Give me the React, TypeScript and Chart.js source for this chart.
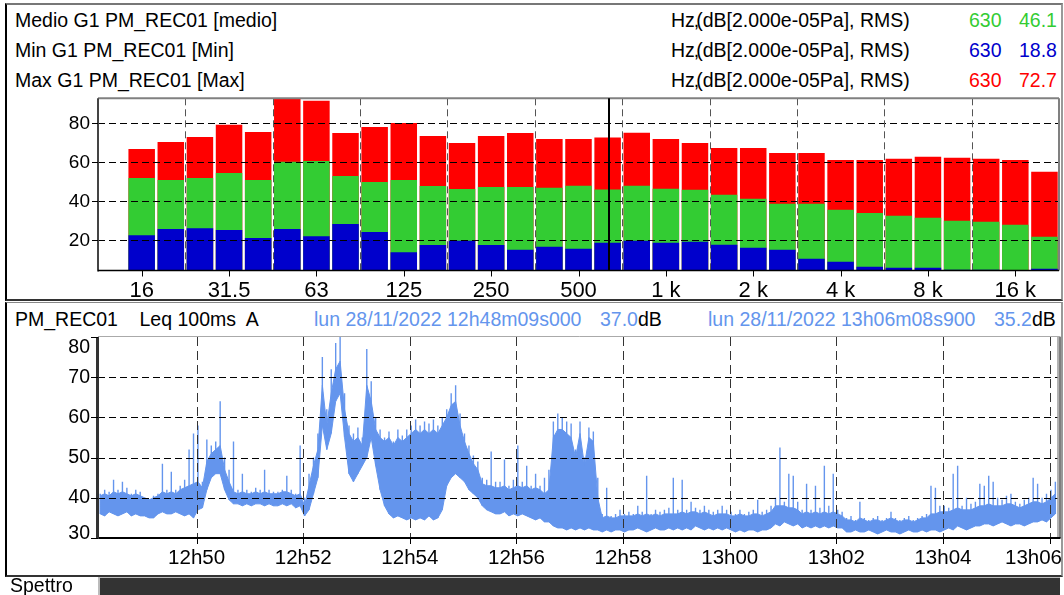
import React, { useEffect, useRef } from 'react';
import { Chart, registerables } from 'chart.js';

Chart.register(...registerables);

const FONT = '"Liberation Sans", Arial, Helvetica, sans-serif';
const RED = '#FF0000';
const GREEN = '#33CC33';
const BLUE = '#0000CC';
const TRACE = '#6495ED';

// ---------- Spectrum (1/3 octave) ----------
const bandLabels = ['12.5', '16', '20', '25', '31.5', '40', '50', '63', '80', '100', '125', '160', '200', '250', '315', '400', '500', '630', '800', '1 k', '1.25 k', '1.6 k', '2 k', '2.5 k', '3.15 k', '4 k', '5 k', '6.3 k', '8 k', '10 k', '12.5 k', '16 k', '20 k'];
const shownBandLabels = ['16', '31.5', '63', '125', '250', '500', '1 k', '2 k', '4 k', '8 k', '16 k'];
const maxLevels = [null, 66.8, 70.4, 73.0, 79.3, 75.6, 93.5, 91.5, 75.0, 78.1, 80.2, 73.5, 69.9, 73.5, 75.0, 72.0, 72.0, 72.7, 75.1, 72.0, 69.9, 67.4, 67.4, 64.8, 64.8, 61.2, 61.2, 61.9, 62.9, 62.4, 61.9, 61.2, 55.2];
const medioLevels = [null, 52.0, 50.9, 52.0, 54.5, 50.9, 60.3, 60.7, 53.0, 49.9, 50.9, 47.9, 46.3, 47.4, 47.4, 47.0, 48.0, 46.1, 48.0, 46.5, 46.0, 43.4, 41.4, 38.8, 38.8, 35.7, 34.0, 32.6, 31.6, 30.1, 29.6, 28.0, 21.9];
const minLevels = [null, 22.7, 25.8, 26.3, 25.3, 21.2, 25.8, 22.2, 28.4, 24.3, 14.0, 17.7, 19.8, 17.7, 15.2, 16.8, 15.8, 18.8, 19.9, 18.8, 19.3, 17.8, 16.2, 15.2, 10.6, 9.1, 6.5, 6.0, 6.0, 5.0, 5.0, 4.6, 5.5];
const spectrumTicks = [20, 40, 60, 80];
const spectrumMin = 4.6;
const spectrumMax = 92.8;
const cursorBand = '630';

// ---------- Time history (Leq 100ms A), read per 5 s column: band bottom, band top, peak ----------
const traceStepSec = 5;
const traceLow = [
  36, 35.5, 36.5, 36, 35.5, 36, 36.5, 35.5, 36, 35.5,
  35.5, 35, 35, 36, 36.5, 36, 36, 36.5, 36, 35.5,
  36, 35, 37, 37.5, 42, 45, 46, 46, 42, 39.5,
  38.5, 38.5, 38, 38.5, 38, 38.5, 38.5, 38, 38.5, 38,
  38, 38.5, 38, 38.5, 37.5, 38, 35.5, 37, 41, 45,
  58, 52, 56, 64, 66, 55, 46, 44, 46, 48,
  50, 55, 48, 42, 38, 36, 35, 35.5, 35, 34.5,
  35, 34.5, 35, 34.5, 35.5, 34.5, 35, 37, 43, 45,
  46, 45, 44, 42, 41, 40, 38, 37, 36.5, 36,
  36, 36.5, 35.5, 36, 35.5, 36, 35.5, 35, 34.5, 35,
  34, 34, 33, 32.5, 32.5, 32, 32.5, 32, 32.5, 32,
  32.5, 32, 32, 31.5, 32, 31.5, 32, 32, 31.5, 32,
  32, 32.5, 32, 31.5, 32, 32.5, 32, 32, 32.5, 32,
  32.5, 32, 32.5, 32, 33, 32.5, 32, 32.5, 32, 32.5,
  32, 32.5, 32, 31.5, 32, 31.5, 32, 32, 31.5, 32,
  32, 32.5, 33.5, 33, 34, 33.5, 33, 33.5, 32.5, 33,
  32.5, 33, 32.5, 33, 32.5, 33, 32.5, 32.5, 31.5, 31.5,
  32, 31.5, 31.5, 32, 31.5, 31, 31.5, 32, 31.5, 31.5,
  31, 31.5, 32, 31.5, 31.5, 32, 31.5, 32, 32, 31.5,
  32, 32.5, 32, 33, 32.5, 32, 32.5, 33, 33, 33.5,
  33.5, 33, 33.5, 34, 33.5, 33, 33.5, 33.5, 33, 33.5,
  34, 34, 34.5, 34, 35, 36,
];
const traceTop = [
  40.5, 41, 40.5, 41.5, 41, 41.5, 41, 40.5, 41, 40.5,
  40, 39.5, 40, 40.5, 41.5, 41, 41.5, 41, 42, 42.5,
  43, 43.5, 44, 42.5, 49, 51, 52, 53, 47, 44,
  41.5, 41, 41.5, 41, 41, 41.5, 41, 41.5, 41, 41,
  41, 41.5, 41.5, 41, 40.5, 41, 38, 43, 48, 52,
  68, 58, 66, 72, 74, 62, 56, 54, 55, 53,
  68, 64, 57, 55, 54, 55, 53, 55, 54, 55,
  56, 57, 56, 57, 56, 57, 56, 58, 60, 63,
  64, 58, 54, 51, 48.5, 47, 43.5, 43, 43, 42.5,
  42.5, 43, 42, 42.5, 43, 42.5, 43, 42, 42.5, 42,
  41, 42, 55, 57, 57, 56, 55, 50, 56, 48,
  55, 54, 40, 35, 35.5, 35, 35, 35.5, 35.5, 35.5,
  35.5, 36, 35.5, 36, 35.5, 36, 35.5, 36, 36, 36,
  36, 36.5, 36, 36.5, 36.5, 36, 36.5, 36, 35.5, 36,
  36, 36, 35.5, 35.5, 36, 35.5, 35.5, 36, 36, 35.5,
  36, 36.5, 38, 38, 38, 37.5, 37.5, 37, 36, 36.5,
  36, 36.5, 36, 36.5, 36, 36.5, 36, 35.5, 34.5, 34.5,
  34, 35, 34.5, 34, 34.5, 34.5, 34, 34.5, 35, 34.5,
  34, 34.5, 34.5, 34, 34.5, 35, 35, 36, 36, 36.5,
  36.5, 36.5, 37, 37.5, 37, 37, 37, 37.5, 38, 38,
  38.5, 38, 38, 38, 38.5, 38.5, 38, 37.5, 38, 38.5,
  39, 39, 38.5, 39, 40, 41,
];
const traceHigh = [
  41, 42, 41.5, 44.5, 42, 44, 42.5, 41, 42, 41.5,
  40, 39.5, 40.5, 41, 48.5, 42, 46.5, 42, 43, 44.5,
  52, 56, 58, 44, 54.5, 53, 54, 64, 50, 47,
  54, 42, 46, 42, 41.5, 42.5, 42, 47, 42, 41.5,
  41.5, 42, 45.5, 42, 41, 53, 40, 46, 50, 56,
  75, 62, 72, 78.5, 80.3, 66, 58, 56, 57.5, 55,
  77, 69, 60, 57, 55, 56.5, 54, 57, 55.5, 57,
  58, 59.5, 58, 59, 58.5, 59.5, 58, 60, 62, 66,
  68, 61, 56, 53, 50.5, 49, 45, 44.5, 51.5, 44,
  44, 49.5, 43, 44.5, 53, 44, 48, 43, 46, 43,
  45, 47, 59, 61, 60, 59, 58.5, 52, 59, 50,
  57.5, 56.5, 45, 36, 42.5, 35.5, 36, 37, 36, 36.5,
  36, 38, 36.5, 45.5, 36, 37, 36.5, 37, 37.5, 45,
  37, 44.5, 37, 39, 37.5, 37, 38, 37, 36.5, 37,
  38, 37, 36.5, 36, 37, 36, 36.5, 37, 39.5, 36.5,
  37, 38, 40, 52.5, 39, 46, 45.5, 39, 37, 43.5,
  37, 43, 37.5, 48, 38, 46, 37, 36.5, 35, 35.5,
  34.5, 39, 35, 34.5, 35, 35.5, 34.5, 35, 36.5, 35,
  34.5, 35, 35.5, 34.5, 35, 35.5, 36, 43, 42.5, 38,
  38, 37.5, 46, 48, 38, 40, 38.5, 39, 43.5, 43,
  45.5, 44, 40, 39.5, 40.5, 41, 39, 38.5, 39.5, 40,
  45, 43.5, 40, 41, 42, 44,
];
const traceEndSec = 1079.9; // 12h48m09s000 -> 13h06m08s900
const timeTickSecs = [111, 231, 351, 471, 591, 711, 831, 951, 1071];
const timeTickLabels = ['12h50', '12h52', '12h54', '12h56', '12h58', '13h00', '13h02', '13h04', '13h06'];
const levelTicks = [30, 40, 50, 60, 70, 80];
const levelMin = 30;
const levelMax = 80;

function hLine(ctx: CanvasRenderingContext2D, x1: number, x2: number, y: number) {
  ctx.beginPath();
  ctx.moveTo(x1, y);
  ctx.lineTo(x2, y);
  ctx.stroke();
}
function vLine(ctx: CanvasRenderingContext2D, x: number, y1: number, y2: number) {
  ctx.beginPath();
  ctx.moveTo(x, y1);
  ctx.lineTo(x, y2);
  ctx.stroke();
}

const upperDecor = {
  id: 'upperDecor',
  afterDatasetsDraw(chart: any) {
    const { ctx, chartArea: a, scales } = chart;
    const x = scales.x;
    const y = scales.y;
    const w = (a.right - a.left) / bandLabels.length;
    ctx.save();
    ctx.lineWidth = 1;
    ctx.setLineDash([7, 4]);
    ctx.strokeStyle = '#000';
    spectrumTicks.forEach((v) => {
      const py = Math.round(y.getPixelForValue(v)) + 0.5;
      hLine(ctx, a.left, a.right, py);
    });
    ctx.strokeStyle = '#555';
    for (let i = 3; i < bandLabels.length; i += 3) {
      const px = Math.round(x.getPixelForValue(i) - w / 2) + 0.5;
      vLine(ctx, px, a.top, a.bottom);
    }
    ctx.setLineDash([]);
    // frame
    ctx.strokeStyle = '#808080';
    ctx.lineWidth = 2;
    hLine(ctx, a.left, a.right, a.top);
    vLine(ctx, a.right, a.top, a.bottom);
    ctx.strokeStyle = '#444';
    vLine(ctx, a.left, a.top, a.bottom + 1);
    ctx.strokeStyle = '#000';
    ctx.lineWidth = 1.5;
    hLine(ctx, a.left, a.right, a.bottom);
    // tick marks
    ctx.lineWidth = 1;
    bandLabels.forEach((lab, i) => {
      if (shownBandLabels.includes(lab)) {
        const px = Math.round(x.getPixelForValue(i)) + 0.5;
        vLine(ctx, px, a.bottom, a.bottom + 6);
      }
    });
    spectrumTicks.forEach((v) => {
      const py = Math.round(y.getPixelForValue(v)) + 0.5;
      hLine(ctx, a.left - 6, a.left, py);
    });
    // cursor
    const ci = bandLabels.indexOf(cursorBand);
    ctx.lineWidth = 2;
    ctx.strokeStyle = '#000';
    vLine(ctx, Math.round(x.getPixelForValue(ci)) + 1, a.top, a.bottom);
    // tick labels
    ctx.fillStyle = '#000';
    ctx.font = `22px ${FONT}`;
    ctx.textAlign = 'center';
    ctx.textBaseline = 'alphabetic';
    bandLabels.forEach((lab, i) => {
      if (shownBandLabels.includes(lab)) ctx.fillText(lab, x.getPixelForValue(i), a.bottom + 26.3);
    });
    ctx.font = `19px ${FONT}`;
    ctx.textAlign = 'right';
    ctx.textBaseline = 'middle';
    spectrumTicks.forEach((v) => {
      ctx.fillText(String(v), a.left - 8, y.getPixelForValue(v) + 0.5);
    });
    ctx.restore();
  },
};

const lowerDecor = {
  id: 'lowerDecor',
  afterDatasetsDraw(chart: any) {
    const { ctx, chartArea: a, scales } = chart;
    const x = scales.x;
    const y = scales.y;
    ctx.save();
    ctx.lineWidth = 1;
    ctx.setLineDash([7, 4]);
    ctx.strokeStyle = '#000';
    levelTicks.forEach((v) => {
      if (v === levelMin || v === levelMax) return;
      const py = Math.round(y.getPixelForValue(v)) + 0.5;
      hLine(ctx, a.left, a.right, py);
    });
    ctx.setLineDash([9, 5]);
    ctx.strokeStyle = '#333';
    timeTickSecs.forEach((t) => {
      const px = Math.round(x.getPixelForValue(t)) + 0.5;
      vLine(ctx, px, a.top, a.bottom);
    });
    ctx.setLineDash([]);
    // frame
    ctx.strokeStyle = '#aaa';
    ctx.lineWidth = 1;
    hLine(ctx, a.left, a.right + 3, a.top - 0.5);
    ctx.strokeStyle = '#666';
    vLine(ctx, a.right + 0.5, a.top, a.bottom);
    ctx.strokeStyle = '#000';
    vLine(ctx, a.right + 2.5, a.top, a.bottom);
    ctx.strokeStyle = '#000';
    ctx.lineWidth = 2;
    hLine(ctx, a.left, a.right + 3, a.bottom);
    ctx.strokeStyle = '#333';
    ctx.lineWidth = 3;
    vLine(ctx, a.left - 0.5, a.top, a.bottom + 1);
    // ticks
    ctx.lineWidth = 1;
    ctx.strokeStyle = '#000';
    levelTicks.forEach((v) => {
      const py = Math.round(y.getPixelForValue(v)) + 0.5;
      hLine(ctx, a.left - 7, a.left, py);
    });
    timeTickSecs.forEach((t) => {
      const px = Math.round(x.getPixelForValue(t)) + 0.5;
      vLine(ctx, px, a.bottom, a.bottom + 6);
    });
    // labels
    ctx.fillStyle = '#000';
    ctx.font = `19.5px ${FONT}`;
    ctx.textAlign = 'right';
    levelTicks.forEach((v) => {
      const py = y.getPixelForValue(v);
      if (v === levelMax) {
        ctx.textBaseline = 'alphabetic';
        ctx.fillText(String(v), a.left - 8, py + 16);
      } else if (v === levelMin) {
        ctx.textBaseline = 'alphabetic';
        ctx.fillText(String(v), a.left - 8, py + 1);
      } else {
        ctx.textBaseline = 'middle';
        ctx.fillText(String(v), a.left - 8, py);
      }
    });
    ctx.font = `20.5px ${FONT}`;
    ctx.textAlign = 'center';
    ctx.textBaseline = 'alphabetic';
    timeTickSecs.forEach((t, i) => {
      const lab = timeTickLabels[i];
      const tw = ctx.measureText(lab).width;
      let px = x.getPixelForValue(t);
      if (px + tw / 2 > chart.width - 2) px = chart.width - 2 - tw / 2;
      ctx.fillText(lab, px, a.bottom + 26);
    });
    ctx.restore();
  },
};

function Txt(props: { x: number; base: number; size?: number; color?: string; children: React.ReactNode }) {
  const size = props.size ?? 19.5;
  const lh = Math.round(size * 1.2);
  const top = props.base - (lh - 1.117 * size) / 2 - 0.905 * size;
  return (
    <div
      style={{
        position: 'absolute',
        left: props.x,
        top,
        fontSize: size,
        lineHeight: `${lh}px`,
        color: props.color ?? '#000',
        whiteSpace: 'pre',
        fontFamily: FONT,
      }}
    >
      {props.children}
    </div>
  );
}

export default function App() {
  const upperRef = useRef<HTMLCanvasElement>(null);
  const lowerRef = useRef<HTMLCanvasElement>(null);

  useEffect(() => {
    const barCommon = { grouped: false, barPercentage: 0.91, categoryPercentage: 1.0, borderWidth: 0 };
    const c1 = new Chart(upperRef.current as HTMLCanvasElement, {
      type: 'bar',
      data: {
        labels: bandLabels,
        datasets: [
          { label: 'Min G1 PM_REC01 [Min]', data: minLevels, backgroundColor: BLUE, ...barCommon },
          { label: 'Medio G1 PM_REC01 [medio]', data: medioLevels, backgroundColor: GREEN, ...barCommon },
          { label: 'Max G1 PM_REC01 [Max]', data: maxLevels, backgroundColor: RED, ...barCommon },
        ] as any,
      },
      options: {
        responsive: false,
        animation: false,
        layout: { padding: { top: 10.3, right: 5, left: 0, bottom: 0 } },
        plugins: { legend: { display: false }, tooltip: { enabled: false } },
        scales: {
          x: {
            grid: { display: false },
            border: { display: false },
            ticks: { display: false },
            afterFit: (s: any) => {
              s.height = 29.5;
            },
          },
          y: {
            min: spectrumMin,
            max: spectrumMax,
            grid: { display: false },
            border: { display: false },
            ticks: { display: false },
            afterFit: (s: any) => {
              s.width = 98;
            },
          },
        },
      } as any,
      plugins: [upperDecor],
    });

    const half = traceStepSec / 2;
    const lowData = traceLow.map((v, i) => ({ x: i * traceStepSec + half, y: v }));
    const topData = traceTop.map((v, i) => ({ x: i * traceStepSec + half, y: v }));
    const combData: { x: number; y: number | null }[] = [];
    traceHigh.forEach((v, i) => {
      const t = i * traceStepSec + half;
      combData.push({ x: t, y: traceLow[i] });
      combData.push({ x: t, y: v });
      combData.push({ x: t, y: null });
    });

    const c2 = new Chart(lowerRef.current as HTMLCanvasElement, {
      type: 'line',
      data: {
        datasets: [
          {
            label: 'band low',
            data: lowData,
            borderColor: TRACE,
            borderWidth: 1,
            pointRadius: 0,
            fill: false,
            tension: 0,
          },
          {
            label: 'band top',
            data: topData,
            borderColor: TRACE,
            backgroundColor: TRACE,
            borderWidth: 1,
            pointRadius: 0,
            fill: '-1',
            tension: 0,
          },
          {
            label: 'PM_REC01 Leq 100ms A',
            data: combData,
            borderColor: TRACE,
            borderWidth: 1.4,
            pointRadius: 0,
            fill: false,
            spanGaps: false,
            tension: 0,
          },
        ],
      },
      options: {
        responsive: false,
        animation: false,
        layout: { padding: { top: 7, right: 6.5, left: 0, bottom: 0 } },
        plugins: { legend: { display: false }, tooltip: { enabled: false } },
        scales: {
          x: {
            type: 'linear',
            min: 0,
            max: traceEndSec,
            grid: { display: false },
            border: { display: false },
            ticks: { display: false },
            afterFit: (s: any) => {
              s.height = 37;
            },
          },
          y: {
            min: levelMin,
            max: levelMax,
            grid: { display: false },
            border: { display: false },
            ticks: { display: false },
            afterFit: (s: any) => {
              s.width = 98;
            },
          },
        },
      } as any,
      plugins: [lowerDecor],
    });

    return () => {
      c1.destroy();
      c2.destroy();
    };
  }, []);

  return (
    <div
      style={{
        position: 'fixed',
        left: 0,
        top: 0,
        width: 1064,
        height: 595,
        background: '#fff',
        overflow: 'hidden',
        fontFamily: FONT,
      }}
    >
      {/* upper panel frame */}
      <div
        style={{
          position: 'absolute',
          left: 5,
          top: 3,
          width: 1058,
          height: 298,
          boxSizing: 'border-box',
          borderTop: '2px solid #777',
          borderLeft: '2px solid #000',
          borderRight: '2px solid #999',
          borderBottom: '2px solid #333',
        }}
      />
      <Txt x={15} base={27}>Medio G1 PM_REC01 [medio]</Txt>
      <Txt x={15} base={57}>Min G1 PM_REC01 [Min]</Txt>
      <Txt x={15} base={87}>Max G1 PM_REC01 [Max]</Txt>
      {[27, 57, 87].map((b) => (
        <Txt key={b} x={671} base={b}>
          <span>Hz</span>
          <span style={{ marginLeft: -1, marginRight: -3 }}>,</span>
          <span>(dB[2.000e-05Pa], RMS)</span>
        </Txt>
      ))}
      <Txt x={969} base={27} color={GREEN}>630</Txt>
      <Txt x={1019} base={27} color={GREEN}>46.1</Txt>
      <Txt x={969} base={57} color={BLUE}>630</Txt>
      <Txt x={1019} base={57} color={BLUE}>18.8</Txt>
      <Txt x={969} base={87} color={RED}>630</Txt>
      <Txt x={1019} base={87} color={RED}>72.7</Txt>

      <canvas
        ref={upperRef}
        width={1064}
        height={212}
        style={{ position: 'absolute', left: 0, top: 88, width: 1064, height: 212 }}
      />

      {/* lower panel frame */}
      <div
        style={{
          position: 'absolute',
          left: 5,
          top: 302,
          width: 1058,
          height: 275,
          boxSizing: 'border-box',
          borderTop: '1px solid #888',
          borderLeft: '2px solid #000',
          borderRight: '2px solid #999',
          borderBottom: '2px solid #333',
        }}
      />
      <Txt x={15} base={326}>PM_REC01</Txt>
      <Txt x={139.5} base={326}>{'Leq 100ms  A'}</Txt>
      <Txt x={314} base={326} color={TRACE}>lun 28/11/2022 12h48m09s000</Txt>
      <Txt x={600} base={326} color={TRACE}>37.0</Txt>
      <Txt x={638} base={326}>dB</Txt>
      <Txt x={708} base={326} color={TRACE}>lun 28/11/2022 13h06m08s900</Txt>
      <Txt x={994} base={326} color={TRACE}>35.2</Txt>
      <Txt x={1032} base={326}>dB</Txt>

      <canvas
        ref={lowerRef}
        width={1064}
        height={245}
        style={{ position: 'absolute', left: 0, top: 330, width: 1064, height: 245 }}
      />

      <Txt x={10} base={592}>Spettro</Txt>
      <div
        style={{
          position: 'absolute',
          left: 98,
          top: 577,
          width: 962,
          height: 18,
          boxSizing: 'border-box',
          background: '#333',
          borderTop: '1px solid #bbb',
          borderLeft: '2px solid #bbb',
        }}
      />
    </div>
  );
}
